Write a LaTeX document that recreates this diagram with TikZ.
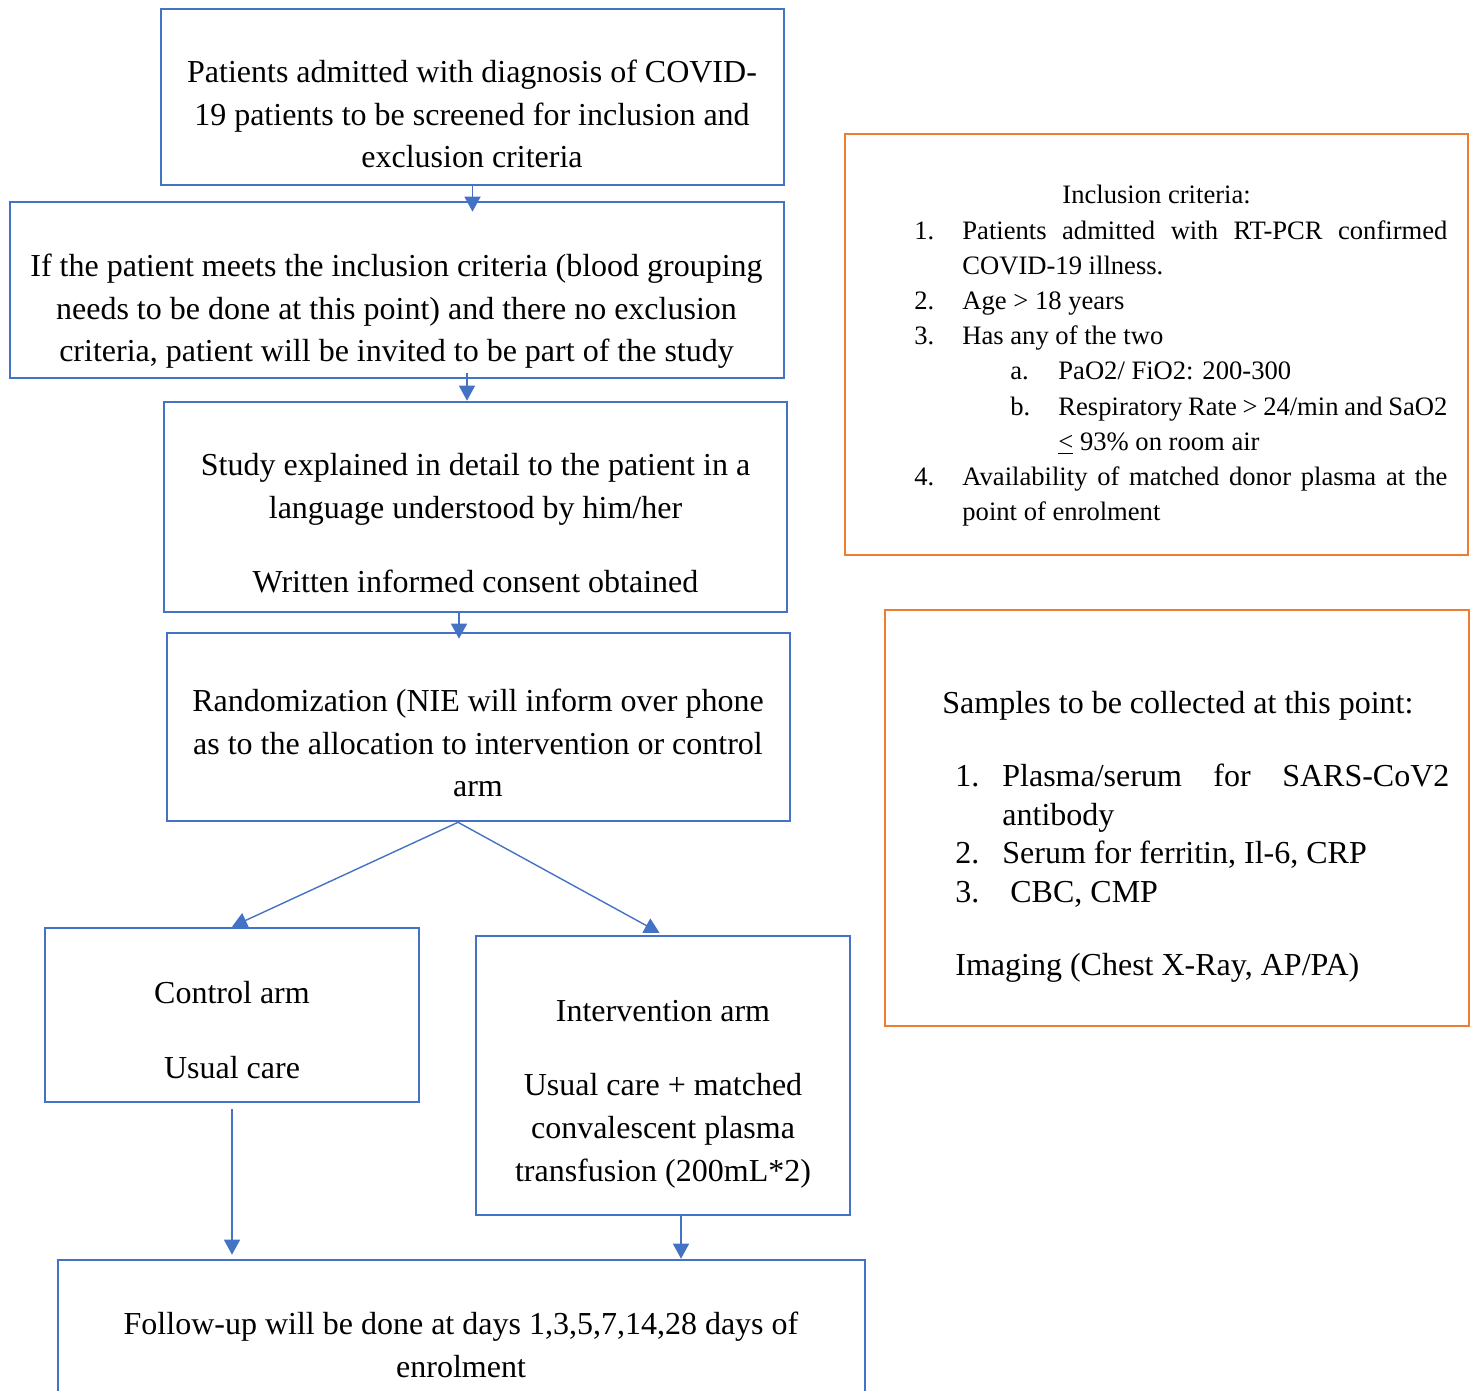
\documentclass[tikz,border=0pt]{standalone}
\usepackage{fontspec}
\setmainfont{Liberation Serif}
\usetikzlibrary{arrows.meta}

\definecolor{flowblue}{RGB}{68,114,196}
\definecolor{critorange}{RGB}{237,125,49}

\tikzset{
  flowbox/.style={draw=flowblue, line width=1.3pt, inner sep=0pt},
  critbox/.style={draw=critorange, line width=1.3pt, inner sep=0pt},
  flowtext/.style={align=center, inner sep=0pt, font=\fontsize{16}{21.3}\selectfont},
  critlist/.style={align=justify, inner sep=0pt},
  flowarrow/.style={draw=flowblue, line width=0.7pt, -{Triangle[width=8pt,length=7.5pt]}}
}

% list items for the two side boxes
\newcommand{\critem}[2]{\noindent\hangindent=24pt\hangafter=1\makebox[24pt][l]{#1}#2\par}
\newcommand{\critsub}[2]{\noindent\hangindent=72pt\hangafter=1\hspace*{48pt}\makebox[24pt][l]{#1}#2\par}
\newcommand{\smpitem}[2]{\noindent\hangindent=30pt\hangafter=1\hspace*{6.5pt}\makebox[23.5pt][l]{#1}#2\par}

\begin{document}
\begin{tikzpicture}[x=0.5pt, y=-0.5pt]
	\useasboundingbox (0,0) rectangle (1475,1390);
	\clip (0,0) rectangle (1475,1390);

	% flow boxes
	\node[flowbox, minimum width=311.5pt, minimum height=88pt] (screen) at (472.5,97) {};
	\node[flowbox, minimum width=387pt, minimum height=88pt] (eligible) at (397,290) {};
	\node[flowbox, minimum width=311.5pt, minimum height=105pt] (consent) at (475.5,507) {};
	\node[flowbox, minimum width=311.5pt, minimum height=94pt] (random) at (478.5,727) {};
	\node[flowbox, minimum width=187pt, minimum height=87pt] (control) at (232,1015) {};
	\node[flowbox, minimum width=187pt, minimum height=139.5pt] (interv) at (663,1075.5) {};
	\node[flowbox, minimum width=403.5pt, minimum height=80pt] (followup) at (461.5,1340) {};

	\node[flowtext] (screentxt) at (472,114) {Patients admitted with diagnosis of COVID-\\19 patients to be screened for inclusion and\\exclusion criteria};
	\node[flowtext] (eligibletxt) at (396.5,311.5) {If the patient meets the inclusion criteria (blood grouping\\needs to be done at this point) and there no exclusion\\criteria, patient will be invited to be part of the study};
	\node[flowtext] (consenttxt) at (475.5,523.5) {Study explained in detail to the patient in a\\language understood by him/her\\[16pt]Written informed consent obtained};
	\node[flowtext] (randomtxt) at (478,743) {Randomization (NIE will inform over phone\\as to the allocation to intervention or control\\arm};
	\node[flowtext] (controltxt) at (232,1030) {Control arm\\[16pt]Usual care};
	\node[flowtext] (intervtxt) at (663,1094) {Intervention arm\\[16pt]Usual care + matched\\convalescent plasma\\transfusion (200mL*2)};
	\node[flowtext] (followuptxt) at (461,1345) {Follow-up will be done at days 1,3,5,7,14,28 days of\\enrolment};

	% side boxes
	\node[critbox, minimum width=311.5pt, minimum height=210.5pt] (inclusion) at (1156.5,344.5) {};
	\node[critbox, minimum width=292pt, minimum height=208pt] (samples) at (1177,818) {};

	\node[critlist, text width=266.5pt, anchor=base west, font=\fontsize{13.3}{17.6}\selectfont] (inclusiontxt) at (914,204) {%
		\noindent\hspace*{74pt}Inclusion criteria:\par
		\critem{1.}{Patients admitted with RT-PCR confirmed\linebreak COVID-19 illness.}
		\critem{2.}{Age > 18 years}
		\critem{3.}{Has any of the two}
		\critsub{a.}{PaO2/ FiO2: 200-300}
		\critsub{b.}{Respiratory Rate > 24/min and SaO2\newline \underline{<} 93\% on room air}
		\critem{4.}{Availability of matched donor plasma at the\linebreak point of enrolment}};

	\node[critlist, text width=253.5pt, anchor=base west, font=\fontsize{16}{19.3}\selectfont] (samplestxt) at (942,713) {%
		\noindent Samples to be collected at this point:\par
		\vspace{17.5pt}
		\smpitem{1.}{Plasma/serum for SARS-CoV2\linebreak antibody}
		\smpitem{2.}{Serum for ferritin, Il-6, CRP}
		\smpitem{3.}{\hspace*{4pt}CBC, CMP}
		\vspace{17pt}
		\noindent\hspace*{6.5pt}Imaging (Chest X-Ray, AP/PA)\par};

	% connectors
	\coordinate (c2) at ([xshift=-4.25pt]consent.north);
	\coordinate (c3) at ([xshift=-9.75pt]random.north);
	\coordinate (split) at ([xshift=-10.25pt]random.south);
	\coordinate (c6) at ([xshift=9pt]interv.south);

	\draw[flowarrow, shorten >=-5.5pt] (screen.south) -- (screen.south |- eligible.north);
	\draw[flowarrow, shorten <=-3pt] (c2 |- eligible.south) -- (c2);
	\draw[flowarrow, shorten >=-3.5pt] (c3 |- consent.south) -- (c3);
	\draw[flowarrow] (split) -- (control.north);
	\draw[flowarrow, shorten >=2pt] (split) -- (interv.north);
	\draw[flowarrow, shorten <=3pt, shorten >=2pt] (control.south) -- (control.south |- followup.north);
	\draw[flowarrow] (c6) -- (c6 |- followup.north);

\end{tikzpicture}
\end{document}
